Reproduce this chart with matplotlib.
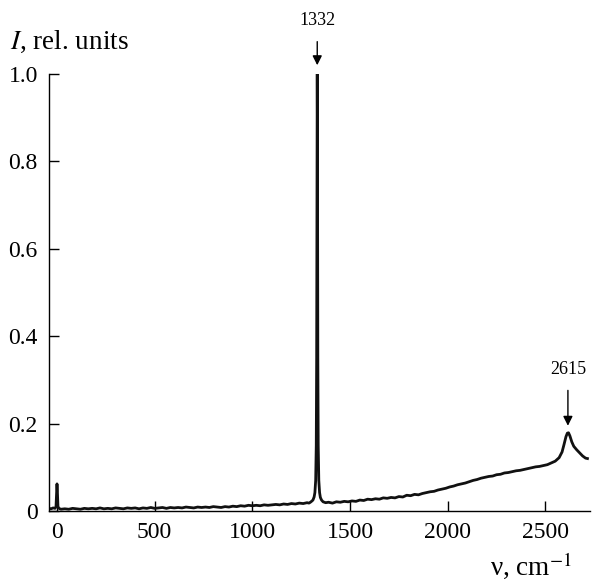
import matplotlib
matplotlib.use("Agg")
import matplotlib.pyplot as plt

plt.rcParams['font.family'] = ['Liberation Serif', 'DejaVu Serif']
plt.rcParams['mathtext.fontset'] = 'stix'

# Raman spectrum
wavenumber = [-40, -30, -20, -10, -5, -2, 0, 2, 5, 10, 20,
              40, 60, 80, 100, 120, 140, 160, 180, 200, 220, 240, 260, 280, 300,
              320, 340, 360, 380, 400, 420, 440, 460, 480, 500, 520, 540, 560, 580,
              600, 620, 640, 660, 680, 700, 720, 740, 760, 780, 800, 820, 840, 860,
              880, 900, 920, 940, 960, 980, 1000, 1020, 1040, 1060, 1080, 1100, 1120,
              1140, 1160, 1180, 1200, 1220, 1240, 1260, 1280, 1290, 1300, 1310, 1316,
              1320, 1324, 1327, 1329, 1330, 1331, 1332, 1333, 1334, 1335, 1337, 1340,
              1344, 1348, 1354, 1362, 1375, 1390, 1410, 1430, 1450, 1470, 1490, 1510,
              1530, 1550, 1570, 1590, 1610, 1630, 1650, 1670, 1690, 1710, 1730, 1750,
              1770, 1790, 1810, 1830, 1850, 1870, 1890, 1910, 1930, 1950, 1970, 1990,
              2010, 2030, 2050, 2070, 2090, 2110, 2130, 2150, 2170, 2190, 2210, 2230,
              2250, 2270, 2290, 2310, 2330, 2350, 2370, 2390, 2410, 2430, 2450, 2470,
              2490, 2510, 2530, 2550, 2570, 2585, 2595, 2605, 2612, 2618, 2625, 2635,
              2645, 2660, 2675, 2690, 2705, 2715]
intensity = [0.006, 0.005, 0.007, 0.006, 0.010, 0.045, 0.062, 0.045, 0.010, 0.006, 0.004,
             0.005, 0.004, 0.006, 0.005, 0.004, 0.006, 0.005, 0.006, 0.005, 0.007, 0.005, 0.006, 0.005, 0.007,
             0.006, 0.005, 0.007, 0.006, 0.007, 0.005, 0.007, 0.006, 0.008, 0.006, 0.007, 0.008, 0.006, 0.008,
             0.007, 0.008, 0.007, 0.009, 0.008, 0.007, 0.009, 0.008, 0.009, 0.008, 0.010, 0.009, 0.008, 0.010,
             0.009, 0.011, 0.010, 0.012, 0.011, 0.013, 0.012, 0.013, 0.012, 0.014, 0.013, 0.014, 0.015,
             0.014, 0.016, 0.015, 0.017, 0.016, 0.018, 0.017, 0.019, 0.018, 0.021, 0.025, 0.032,
             0.042, 0.070, 0.150, 0.350, 0.600, 0.880, 1.000, 0.880, 0.600, 0.350, 0.150, 0.070,
             0.042, 0.031, 0.025, 0.021, 0.019, 0.020, 0.018, 0.021, 0.020, 0.022, 0.021, 0.023,
             0.022, 0.025, 0.024, 0.027, 0.026, 0.028, 0.027, 0.030, 0.029, 0.031, 0.030, 0.033,
             0.032, 0.036, 0.035, 0.038, 0.037, 0.040, 0.042, 0.044, 0.045, 0.048, 0.050, 0.052,
             0.055, 0.057, 0.060, 0.062, 0.064, 0.067, 0.070, 0.072, 0.075, 0.077, 0.079, 0.080,
             0.083, 0.084, 0.087, 0.088, 0.090, 0.092, 0.093, 0.095, 0.097, 0.099, 0.101, 0.102,
             0.104, 0.106, 0.110, 0.114, 0.122, 0.135, 0.152, 0.170, 0.178, 0.179, 0.172, 0.158,
             0.148, 0.140, 0.133, 0.126, 0.121, 0.120]

xticks = [0, 500, 1000, 1500, 2000, 2500]
yticks = [0, 0.2, 0.4, 0.6, 0.8, 1.0]
ytick_labels = ['0', '0.2', '0.4', '0.6', '0.8', '1.0']
peaks = [1332, 2615]
peak_labels = ['1332', '2615']
peak_heights = [1.0, 0.179]

fig = plt.figure(figsize=(5.93, 5.81), dpi=100)
ax = fig.add_axes([0.0826, 0.1205, 0.912, 0.7522])
ax.plot(wavenumber, intensity, color='#111111', linewidth=2.0)
ax.set_xlim(-41, 2727)
ax.set_ylim(0, 1.0)
ax.set_xticks(xticks)
ax.set_yticks(yticks)
ax.set_yticklabels(ytick_labels)
for s in ['top', 'right']:
    ax.spines[s].set_visible(False)
for s in ['left', 'bottom']:
    ax.spines[s].set_linewidth(1.0)
ax.tick_params(direction='in', length=7, width=1.0, labelsize=17, pad=8)

# annotations
ax.annotate(peak_labels[0], xy=(peaks[0], peak_heights[0] + 0.02), xytext=(peaks[0], 1.122),
            ha='center', va='center', fontsize=13, annotation_clip=False,
            arrowprops=dict(arrowstyle='-|>', color='black', lw=1.0, mutation_scale=14,
                            shrinkA=7, shrinkB=0))
ax.annotate(peak_labels[1], xy=(peaks[1], peak_heights[1] + 0.016), xytext=(peaks[1], 0.324),
            ha='center', va='center', fontsize=13, annotation_clip=False,
            arrowprops=dict(arrowstyle='-|>', color='black', lw=1.0, mutation_scale=14,
                            shrinkA=7, shrinkB=0))

fig.text(0.017, 0.9157, '$I$, rel. units', fontsize=19.5, ha='left', va='baseline')
fig.text(0.965, 0.0103, 'ν, cm$^{-1}$', fontsize=19.5, ha='right', va='baseline')

fig.savefig('out.png', dpi=100)
